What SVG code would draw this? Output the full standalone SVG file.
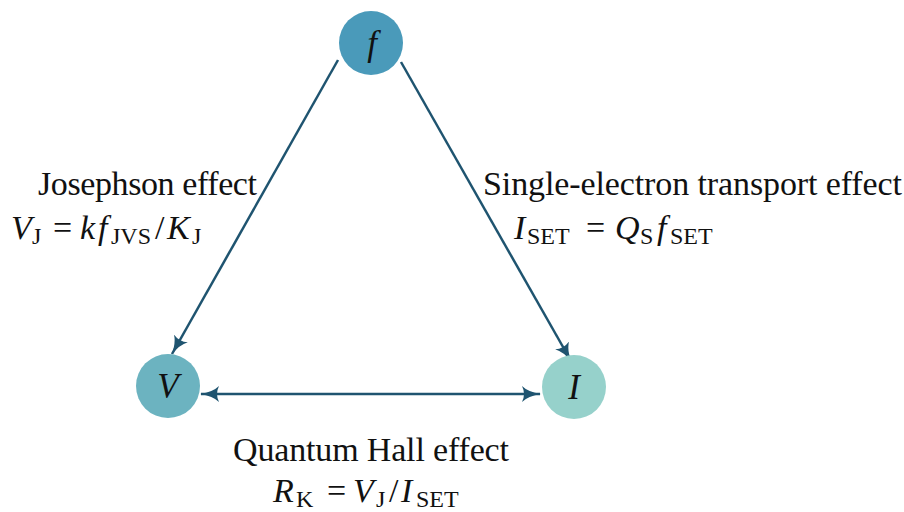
<svg xmlns="http://www.w3.org/2000/svg" width="904" height="512" viewBox="0 0 904 512">
<defs>
<marker id="ah2" viewBox="0 0 20 16" refX="18" refY="8" markerWidth="20" markerHeight="16" markerUnits="userSpaceOnUse" orient="auto-start-reverse">
<path d="M0,0 Q6,6 19,8 Q6,10 0,16 Q4,8 0,0 Z" fill="#1f5470"/>
</marker>
</defs>
<style>
.t{font-family:'Liberation Serif','DejaVu Serif',serif;font-size:34px;fill:#111}
.m{font-style:italic}
.s{font-size:24px;font-style:normal}
.e{stroke:#1f5470;stroke-width:2.5;fill:none;marker-end:url(#ah2)}
.lab{font-family:'Liberation Serif','DejaVu Serif',serif;font-size:35px;font-style:italic;fill:#111;text-anchor:middle}
</style>
<rect width="904" height="512" fill="#fff"/>
<g id="connectors">
<line class="e" x1="338" y1="60" x2="172" y2="354"/>
<line class="e" x1="401" y1="62" x2="571" y2="361"/>
<line class="e" x1="201" y1="394" x2="540" y2="394" style="marker-start:url(#ah2)"/>
</g>
<g id="node-f">
<circle cx="371" cy="43" r="32" fill="#4a9aba"/>
<text class="lab" x="372" y="55">f</text>
</g>
<g id="node-V">
<circle cx="168" cy="386" r="32" fill="#6cb3c0"/>
<text class="lab" x="168" y="398">V</text>
</g>
<g id="node-I">
<circle cx="574" cy="387" r="32" fill="#96d1cb"/>
<text class="lab" x="574" y="399">I</text>
</g>
<g id="label-josephson">
<text class="t" x="38" y="195" textLength="219" lengthAdjust="spacing">Josephson effect</text>
<text class="t" y="239"><tspan class="m" x="11">V</tspan><tspan class="s" x="32" dy="5">J</tspan><tspan x="53" dy="-5">=</tspan><tspan class="m" x="80">k</tspan><tspan class="m" x="98">f</tspan><tspan class="s" x="111" dy="5">JVS</tspan><tspan x="155" dy="-5">/</tspan><tspan class="m" x="167">K</tspan><tspan class="s" x="192" dy="5">J</tspan></text>
</g>
<g id="label-set">
<text class="t" x="483" y="195" textLength="419" lengthAdjust="spacing">Single-electron transport effect</text>
<text class="t" y="239"><tspan class="m" x="514">I</tspan><tspan class="s" x="527" dy="5">SET</tspan><tspan x="586" dy="-5">=</tspan><tspan class="m" x="615">Q</tspan><tspan class="s" x="640" dy="5">S</tspan><tspan class="m" x="657" dy="-5">f</tspan><tspan class="s" x="670" dy="5">SET</tspan></text>
</g>
<g id="label-qhe">
<text class="t" x="233" y="461" textLength="276" lengthAdjust="spacing">Quantum Hall effect</text>
<text class="t" y="502"><tspan class="m" x="273">R</tspan><tspan class="s" x="296" dy="5">K</tspan><tspan x="327" dy="-5">=</tspan><tspan class="m" x="353">V</tspan><tspan class="s" x="376" dy="5">J</tspan><tspan x="389" dy="-5">/</tspan><tspan class="m" x="401">I</tspan><tspan class="s" x="416" dy="5">SET</tspan></text>
</g>
</svg>
